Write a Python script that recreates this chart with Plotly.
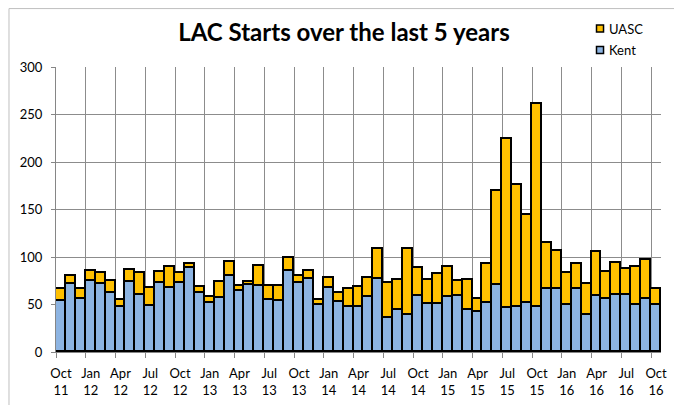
import plotly.graph_objects as go

months = ["Oct", "Nov", "Dec", "Jan", "Feb", "Mar", "Apr", "May", "Jun", "Jul", "Aug", "Sep"]
# 61 months: Oct 2011 .. Oct 2016
month_labels = []
for i in range(61):
    m = months[i % 12]
    yr = 11 + (i + 9) // 12
    month_labels.append(f"{m}<br>{yr:02d}")

kent = [54, 72, 56, 75, 72, 62, 47, 74, 60, 48, 73, 67,
        73, 88, 62, 52, 57, 80, 64, 71, 70, 55, 54, 85,
        73, 77, 50, 67, 53, 47, 47, 58, 77, 36, 44, 39,
        59, 51, 51, 58, 59, 44, 42, 52, 71, 46, 47, 52,
        47, 66, 66, 49, 66, 39, 59, 56, 60, 60, 49, 56,
        49]
total = [66, 80, 66, 85, 83, 75, 55, 86, 83, 67, 84, 89,
         83, 93, 68, 58, 74, 95, 69, 74, 91, 70, 69, 99,
         80, 85, 55, 78, 62, 66, 68, 78, 108, 73, 76, 108,
         88, 76, 82, 90, 75, 76, 56, 93, 169, 224, 176, 144,
         261, 115, 106, 83, 93, 72, 105, 84, 94, 87, 90, 97,
         66]
uasc = [t - k for t, k in zip(total, kent)]

series_names = ["Kent", "UASC"]
series_colors = ["#8DB4E2", "#FFC000"]

x = list(range(len(kent)))
tick_idx = list(range(0, 61, 3))
tick_text = [month_labels[i] for i in tick_idx]

font_family = "Lato, 'Open Sans', sans-serif"

fig = go.Figure()
for name, vals, col in zip(series_names, [kent, uasc], series_colors):
    fig.add_trace(go.Bar(x=x, y=vals, name=name, showlegend=False,
                         marker=dict(color=col, line=dict(color="black", width=1.8))))

# custom legend (small squares + labels) in the top-right corner
legend_shapes = []
legend_annots = []
for name, col, (sy0, sy1, ty) in [
        ("UASC", series_colors[1], (1.1228, 1.1474, 1.1333)),
        ("Kent", series_colors[0], (1.0474, 1.0719, 1.0596))]:
    legend_shapes.append(dict(type="rect", xref="paper", yref="paper",
                              x0=0.8934, x1=0.9050, y0=sy0, y1=sy1,
                              fillcolor=col, line=dict(color="black", width=1.5)))
    legend_annots.append(dict(text=name, xref="paper", yref="paper", x=0.9105, y=ty,
                              xanchor="left", yanchor="middle", showarrow=False,
                              font=dict(size=13, family=font_family, color="black")))

border = dict(type="rect", xref="paper", yref="paper",
              x0=-0.0777, x1=1.0231, y0=-0.3, y1=1.205,
              line=dict(color="#BFBFBF", width=1), fillcolor="rgba(0,0,0,0)", layer="below")

# page body has an 8px default margin, so the figure is sized to fit the window
fig.update_layout(
    width=674, height=397,
    barmode="stack", bargap=0,
    paper_bgcolor="white", plot_bgcolor="white",
    margin=dict(l=48, r=21, t=59, b=53, autoexpand=False),
    font=dict(family=font_family, size=13, color="black"),
    title=dict(text="<b>LAC Starts over the last 5 years</b>",
               x=0.4985, xanchor="center", y=0.937, yanchor="middle",
               font=dict(size=24, family=font_family, color="black")),
    showlegend=False,
    xaxis=dict(range=[-0.5, 60.5], tickmode="array", tickvals=tick_idx, ticktext=tick_text,
               showgrid=False, ticks="", showline=True, linecolor="#868686", linewidth=1,
               zeroline=False, ticklabelstandoff=9, automargin=False,
               minor=dict(tick0=-0.5, dtick=3, showgrid=True, gridcolor="#8C8C8C", gridwidth=1,
                          ticks="outside", ticklen=5, tickcolor="#868686")),
    yaxis=dict(range=[0, 300], dtick=50, showgrid=True, gridcolor="#8C8C8C", gridwidth=1,
               ticks="outside", ticklen=4, tickcolor="#868686", ticklabelstandoff=6,
               showline=True, linecolor="#868686", linewidth=1, zeroline=False, automargin=False),
    shapes=[border] + legend_shapes,
    annotations=legend_annots,
)

fig.write_html("out.html")
